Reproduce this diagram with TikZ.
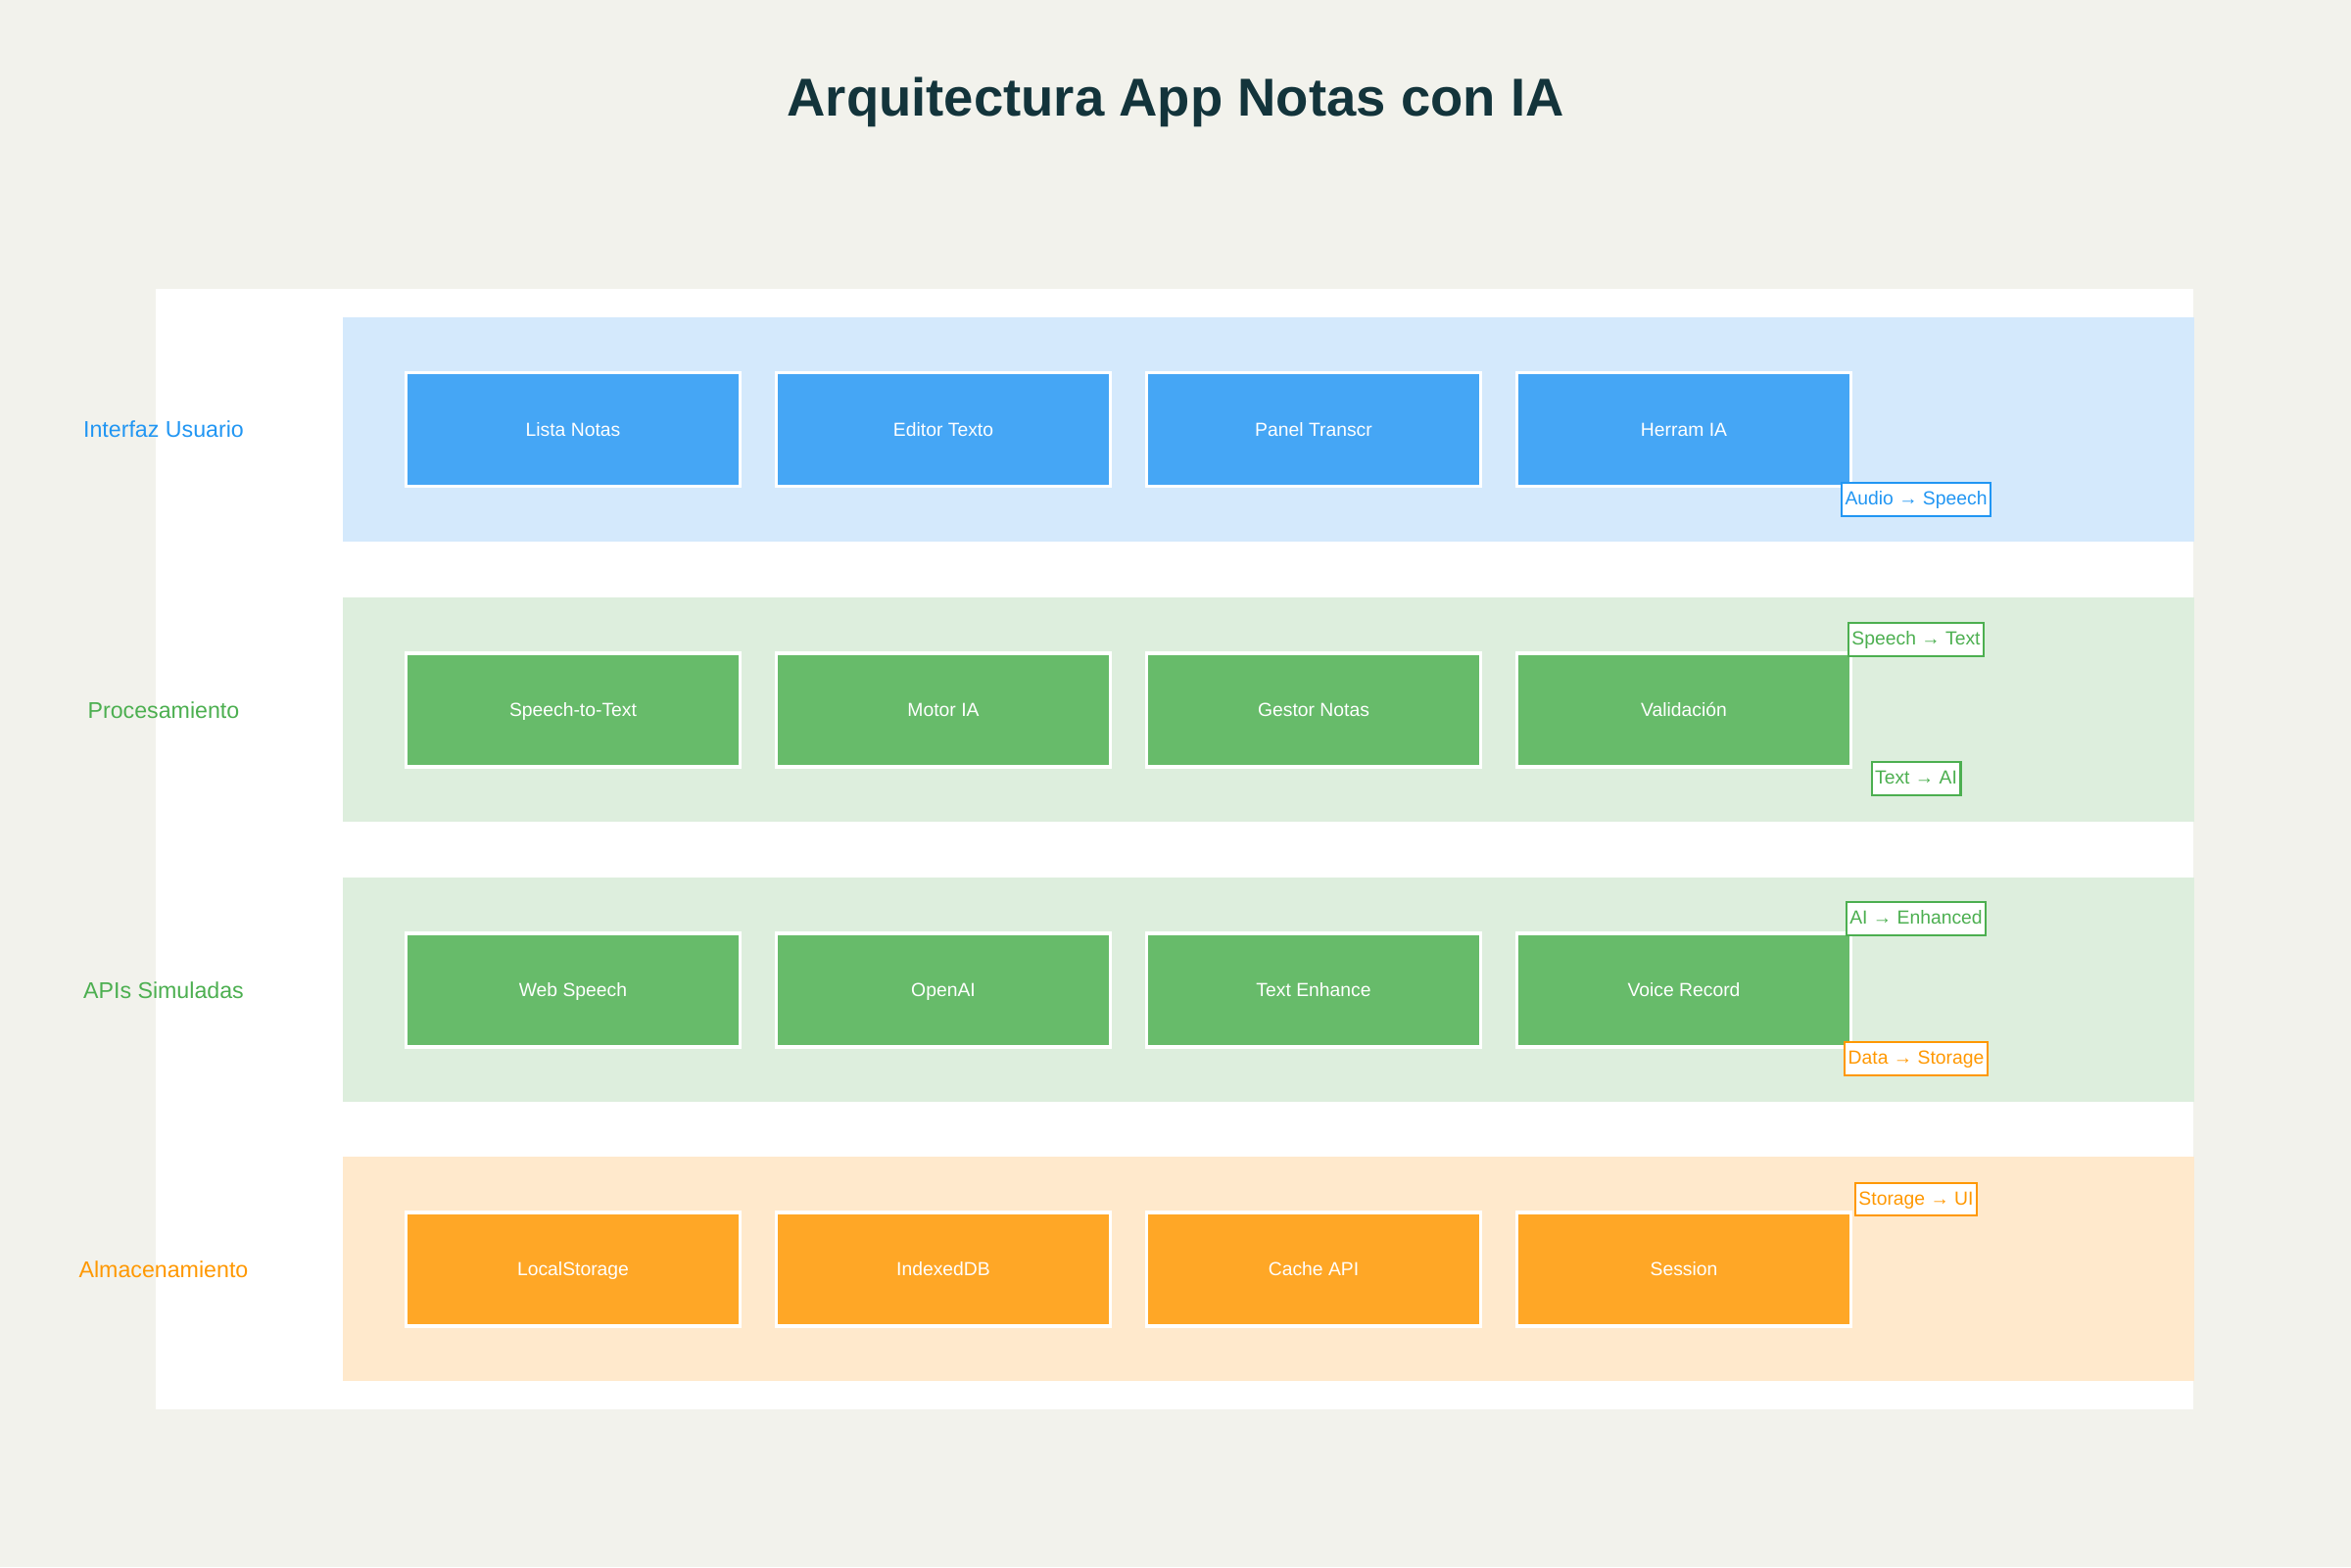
\documentclass[tikz,border=0pt]{standalone}
\usepackage{fontspec}
\setmainfont{Liberation Sans}
\definecolor{bgc}{HTML}{F2F2EC}
\definecolor{titlec}{HTML}{13343B}
\definecolor{uilane}{HTML}{D4E9FC}
\definecolor{uibox}{HTML}{45A6F5}
\definecolor{uic}{HTML}{2196F3}
\definecolor{grlane}{HTML}{DDEEDD}
\definecolor{grbox}{HTML}{67BB6A}
\definecolor{grc}{HTML}{4CAF50}
\definecolor{orlane}{HTML}{FFE9CC}
\definecolor{orbox}{HTML}{FFA726}
\definecolor{orc}{HTML}{FF9800}
\begin{document}
\begin{tikzpicture}[
        lane/.style={rectangle, anchor=west, inner sep=0pt, minimum width=18.9cm, minimum height=2.29cm},
        layer/.style={font=\fontsize{6.6}{8}\selectfont},
        box/.style={draw=white, rectangle, line width=0.9pt, minimum width=3.41cm, minimum height=1.16cm, text height=4.4pt, text depth=0.6pt, text=white, font=\fontsize{5.5}{6.6}\selectfont},
        tag/.style={draw, rectangle, fill=white, line width=0.6pt, inner xsep=1pt, inner ysep=2pt, text height=4.4pt, text depth=1.2pt, font=\fontsize{5.5}{6.6}\selectfont}
    ]

        \fill[bgc] (0,0) rectangle (24,16);
        \useasboundingbox (0,0) rectangle (24,16);
        \fill[white] (1.59,1.61) rectangle (22.39,13.05);

        \node[text=titlec, anchor=base, font=\fontsize{15.5}{18}\selectfont\bfseries] (title) at (12,14.81)
        {Arquitectura App Notas con IA};

        \node[lane, fill=uilane] (ui) at (3.49,11.615) {};
        \node[layer, text=uic] (uil) at (1.67,11.615) {Interfaz Usuario};
        \node[box, fill=uibox] (a) at (5.85,11.615) {Lista Notas};
        \node[box, fill=uibox] (b) at (9.63,11.615) {Editor Texto};
        \node[box, fill=uibox] (c) at (13.41,11.615) {Panel Transcr};
        \node[box, fill=uibox] (d) at (17.19,11.615) {Herram IA};

        \node[lane, fill=grlane] (proc) at (3.49,8.75) {};
        \node[layer, text=grc] (procl) at (1.67,8.75) {Procesamiento};
        \node[box, fill=grbox] (e) at (5.85,8.75) {Speech-to-Text};
        \node[box, fill=grbox] (f) at (9.63,8.75) {Motor IA};
        \node[box, fill=grbox] (g) at (13.41,8.75) {Gestor Notas};
        \node[box, fill=grbox] (h) at (17.19,8.75) {Validación};

        \node[lane, fill=grlane] (api) at (3.49,5.89) {};
        \node[layer, text=grc] (apil) at (1.67,5.89) {APIs Simuladas};
        \node[box, fill=grbox] (i) at (5.85,5.89) {Web Speech};
        \node[box, fill=grbox] (j) at (9.63,5.89) {OpenAI};
        \node[box, fill=grbox] (k) at (13.41,5.89) {Text Enhance};
        \node[box, fill=grbox] (l) at (17.19,5.89) {Voice Record};

        \node[lane, fill=orlane] (store) at (3.49,3.04) {};
        \node[layer, text=orc] (storel) at (1.67,3.04) {Almacenamiento};
        \node[box, fill=orbox] (m) at (5.85,3.04) {LocalStorage};
        \node[box, fill=orbox] (n) at (9.63,3.04) {IndexedDB};
        \node[box, fill=orbox] (o) at (13.41,3.04) {Cache API};
        \node[box, fill=orbox] (p) at (17.19,3.04) {Session};

        \node[tag, draw=uic, text=uic] (t1) at (19.56,10.90) {Audio → Speech};
        \node[tag, draw=grc, text=grc] (t2) at (19.56,9.47) {Speech → Text};
        \node[tag, draw=grc, text=grc] (t3) at (19.56,8.05) {Text → AI};
        \node[tag, draw=grc, text=grc] (t4) at (19.56,6.62) {AI → Enhanced};
        \node[tag, draw=orc, text=orc] (t5) at (19.56,5.19) {Data → Storage};
        \node[tag, draw=orc, text=orc] (t6) at (19.56,3.755) {Storage → UI};
    \end{tikzpicture}
\end{document}
